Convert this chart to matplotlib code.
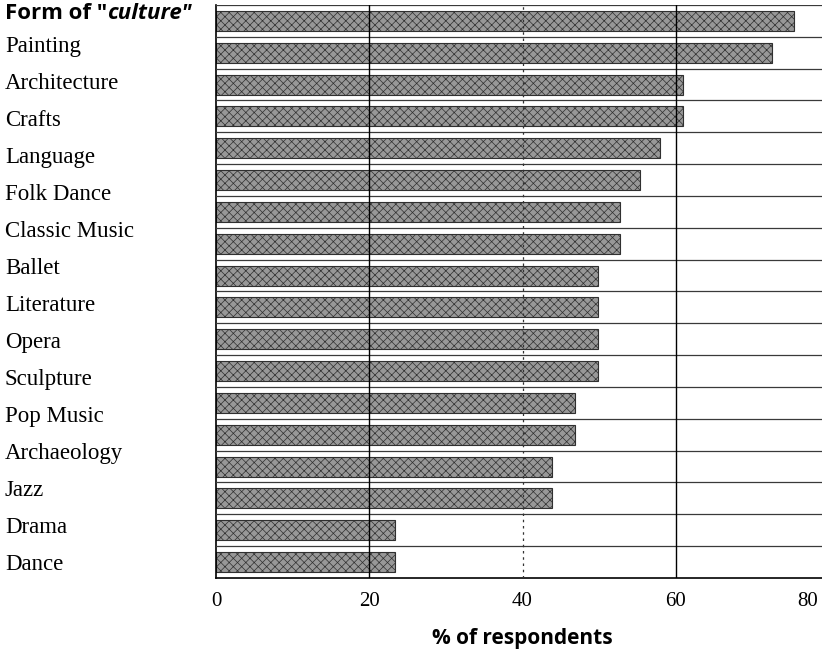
import numpy as np
import matplotlib
matplotlib.use('Agg')
import matplotlib.pyplot as plt
from matplotlib.transforms import ScaledTranslation

### Data (18 bars, 15 labels)
values = [75.4, 72.6, 61.0, 61.0, 57.9, 55.3, 52.7, 52.7, 49.8,
          49.8, 49.8, 49.8, 46.8, 46.8, 43.8, 43.8, 23.3, 23.3]
labels = ['Painting', 'Architecture', 'Crafts', 'Language', 'Folk Dance',
          'Classic Music', 'Ballet', 'Literature', 'Opera', 'Sculpture',
          'Pop Music', 'Archaeology', 'Jazz', 'Drama', 'Dance']
xticks = [0, 20, 40, 60, 80]

plt.rcParams['hatch.linewidth'] = 0.5

fig = plt.figure(figsize=(8.22, 6.5), dpi=100)
ax = fig.add_axes([216/822, 72/650, 613/822, 573/650])

ypos = np.arange(len(values))
ax.barh(ypos, values, height=0.63, color='#989898', edgecolor='#303030',
        linewidth=0.8, hatch='xxxx', zorder=2)

# separators between rows
for y in np.arange(-0.5, len(values), 1.0):
    ax.axhline(y, color='#3a3a3a', lw=0.9, zorder=3)

# vertical grid
ax.axvline(20, color='black', lw=1.0, zorder=4)
ax.axvline(40, color='#333333', lw=0.9, ls=(0, (2, 3)), zorder=4)
ax.axvline(60, color='black', lw=1.0, zorder=4)

ax.set_xlim(0, 80)
ax.set_ylim(len(values) - 0.5, -0.5)

ax.set_xticks(xticks, [str(t) for t in xticks], family='Liberation Serif', fontsize=15)
lab_pos = np.linspace(0.72, 17.0, len(labels))
ax.set_yticks(lab_pos, labels, family='Liberation Serif', fontsize=16.5)
ax.tick_params(axis='y', length=0, pad=152)
ax.tick_params(axis='x', length=0, pad=10)
for t in ax.yaxis.get_major_ticks():
    t.label1.set_horizontalalignment('left')
last = ax.xaxis.get_major_ticks()[-1].label1
last.set_horizontalalignment('right')
last.set_transform(last.get_transform() + ScaledTranslation(-11/100, 0, fig.dpi_scale_trans))

for s in ['top', 'right']:
    ax.spines[s].set_visible(False)
ax.spines['left'].set_linewidth(1.2)
ax.spines['bottom'].set_linewidth(1.2)

ax.set_xlabel('% of respondents', family='Open Sans', fontweight='bold',
              fontsize=15, labelpad=12)

# title at the top left
t1 = fig.text(5/822, 1 - 19/650, 'Form of "', family='Open Sans',
              fontweight='bold', fontsize=16, va='baseline')
fig.canvas.draw()
ax.annotate('culture"', xy=(1, 0), xycoords=t1, va='bottom',
            family='Open Sans', fontweight='bold', fontstyle='italic',
            fontsize=16, annotation_clip=False)

plt.savefig('out.png', dpi=100)
